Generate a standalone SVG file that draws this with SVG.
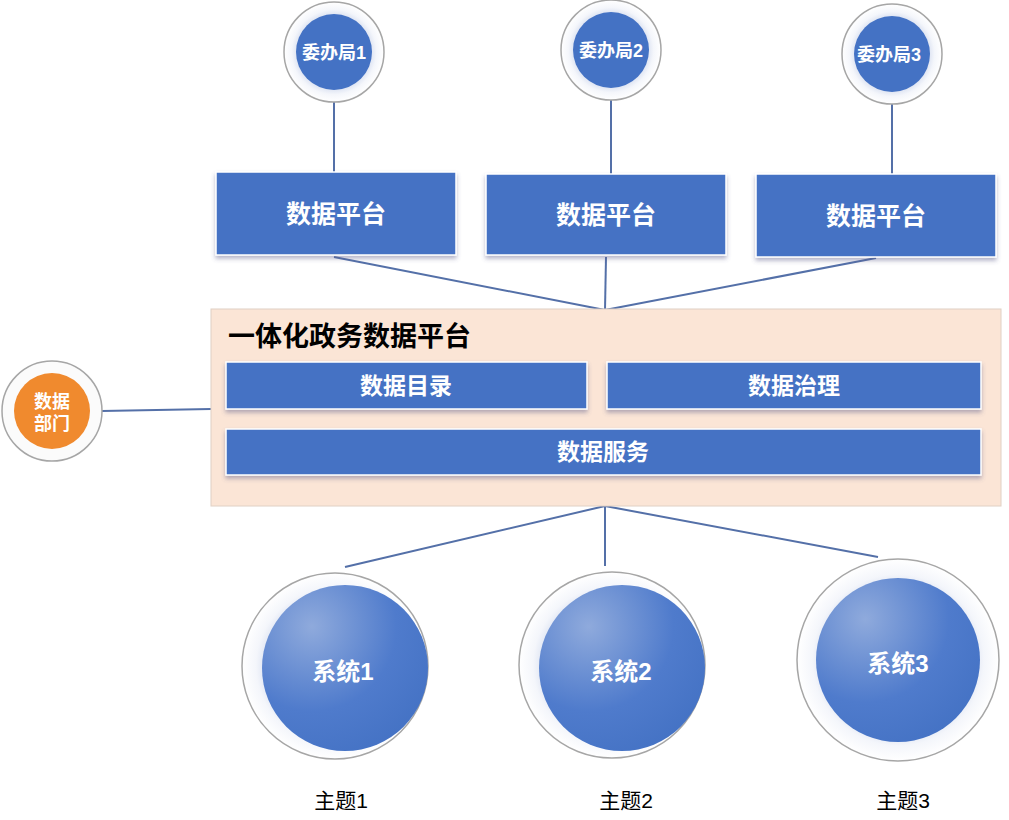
<svg xmlns="http://www.w3.org/2000/svg" width="1009" height="820" viewBox="0 0 1009 820">
<defs>
<radialGradient id="bg" cx="0.3" cy="0.25" r="0.85"><stop offset="0" stop-color="#8faadc"/><stop offset="0.6" stop-color="#4f7bcc"/><stop offset="1" stop-color="#4472c4"/></radialGradient>
<radialGradient id="ring" cx="0.5" cy="0.5" r="0.5"><stop offset="0.75" stop-color="#dfe5f3"/><stop offset="0.85" stop-color="#f4f6fb"/><stop offset="1" stop-color="#ffffff"/></radialGradient>
<filter id="sh" x="-10%" y="-20%" width="120%" height="160%"><feDropShadow dx="0" dy="3" stdDeviation="2" flood-color="#5a5a8a" flood-opacity="0.45"/></filter>
</defs>
<style>
text{font-family:"Liberation Sans","Noto Sans CJK SC",sans-serif;font-weight:bold;text-anchor:middle}
.box{fill:#4472c4;stroke:#fff;stroke-width:1.5;filter:url(#sh)}
.wt{fill:#fff}
.outer{fill:url(#ring);stroke:#a6a6a6;stroke-width:1.5}
.ln{stroke:#5470a8;stroke-width:2;fill:none}
</style>
<rect width="1009" height="820" fill="#fff"/>
<g id="connectors">
<line class="ln" x1="334" y1="100" x2="334" y2="172"/>
<line class="ln" x1="611" y1="98" x2="611" y2="174"/>
<line class="ln" x1="892" y1="102" x2="892" y2="174"/>
<line class="ln" x1="334" y1="257" x2="605" y2="310"/>
<line class="ln" x1="606" y1="257" x2="605" y2="310"/>
<line class="ln" x1="876" y1="258" x2="605" y2="310"/>
<line class="ln" x1="102" y1="411" x2="211" y2="409"/>
<line class="ln" x1="605" y1="506" x2="345" y2="567"/>
<line class="ln" x1="605" y1="506" x2="605" y2="566"/>
<line class="ln" x1="605" y1="506" x2="878" y2="557"/>
</g>
<g id="wb1"><circle class="outer" cx="334" cy="52" r="50"/><circle cx="334" cy="52" r="38" fill="#4472c4"/><text class="wt" x="334" y="59" font-size="18">委办局1</text></g>
<g id="wb2"><circle class="outer" cx="611" cy="50" r="50"/><circle cx="611" cy="50" r="38" fill="#4472c4"/><text class="wt" x="611" y="57" font-size="18">委办局2</text></g>
<g id="wb3"><circle class="outer" cx="892" cy="54" r="50"/><circle cx="892" cy="54" r="38" fill="#4472c4"/><text class="wt" x="889" y="61" font-size="18">委办局3</text></g>
<g id="p1"><rect class="box" x="216" y="172" width="240" height="83"/><text class="wt" x="336" y="223" font-size="25">数据平台</text></g>
<g id="p2"><rect class="box" x="486" y="174" width="240" height="81"/><text class="wt" x="606" y="224" font-size="25">数据平台</text></g>
<g id="p3"><rect class="box" x="756" y="174" width="240" height="83"/><text class="wt" x="876" y="225" font-size="25">数据平台</text></g>
<g id="platform">
<rect x="211" y="309" width="790" height="197" fill="#fbe5d6" stroke="#e0d0c4"/>
<text x="228" y="346" font-size="27" style="text-anchor:start" fill="#000">一体化政务数据平台</text>
</g>
<g id="catalog"><rect class="box" x="226" y="362" width="361" height="47"/><text class="wt" x="406" y="394" font-size="23">数据目录</text></g>
<g id="gov"><rect class="box" x="607" y="362" width="374" height="47"/><text class="wt" x="794" y="394" font-size="23">数据治理</text></g>
<g id="svc"><rect class="box" x="226" y="429" width="755" height="46"/><text class="wt" x="603" y="460" font-size="23">数据服务</text></g>
<g id="dept"><circle cx="52" cy="411" r="50" fill="#fbfbfb" stroke="#a6a6a6" stroke-width="1.5"/><circle cx="52" cy="411" r="38" fill="#f08a2e"/><text class="wt" x="52" y="408" font-size="18">数据</text><text class="wt" x="52" y="430" font-size="18">部门</text></g>
<g id="s1"><circle class="outer" cx="335" cy="666" r="93"/><circle cx="345" cy="668" r="83" fill="url(#bg)"/><text class="wt" x="343" y="680" font-size="24">系统1</text></g>
<g id="s2"><circle class="outer" cx="612" cy="665" r="93"/><circle cx="622" cy="668" r="83" fill="url(#bg)"/><text class="wt" x="621" y="680" font-size="24">系统2</text></g>
<g id="s3"><circle class="outer" cx="898" cy="660" r="101"/><circle cx="898" cy="660" r="82" fill="url(#bg)"/><text class="wt" x="898" y="672" font-size="24">系统3</text></g>
<g id="labels" font-weight="normal">
<text x="341" y="808" font-size="21" style="font-weight:normal" fill="#000">主题1</text>
<text x="626" y="808" font-size="21" style="font-weight:normal" fill="#000">主题2</text>
<text x="903" y="808" font-size="21" style="font-weight:normal" fill="#000">主题3</text>
</g>
</svg>
